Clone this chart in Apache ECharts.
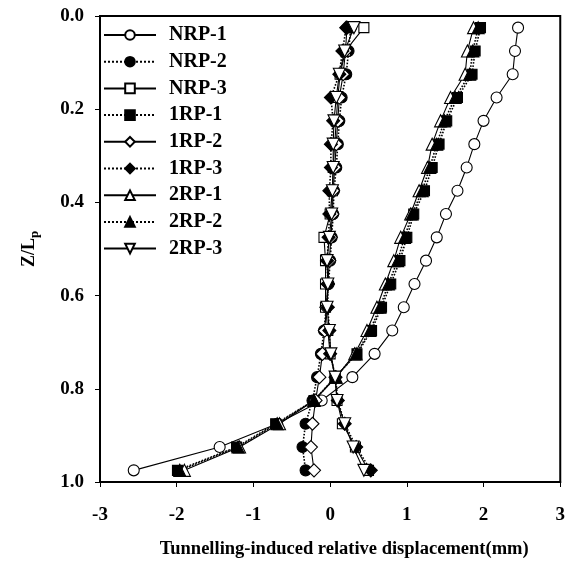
<!DOCTYPE html>
<html>
<head>
<meta charset="utf-8">
<script src="https://cdn.jsdelivr.net/npm/echarts@6/dist/echarts.min.js"></script>
<style>
  html, body { margin: 0; padding: 0; background: #fff; }
  #chart { width: 568px; height: 565px; }
</style>
</head>
<body>
<div id="chart"></div>
<script>
// depth ratio Z/Lp of each measuring point
const depths = [0.025, 0.075, 0.125, 0.175, 0.225, 0.275, 0.325, 0.375, 0.425, 0.475,
                0.525, 0.575, 0.625, 0.675, 0.725, 0.775, 0.825, 0.875, 0.925, 0.975]

// relative displacement (mm), one value per depth
const nrp1 = [2.45, 2.41, 2.38, 2.17, 2.0, 1.88, 1.78, 1.66, 1.51, 1.39,
              1.25, 1.10, 0.96, 0.81, 0.58, 0.29, -0.11, -0.69, -1.44, -2.56]
const nrp2 = [0.27, 0.24, 0.21, 0.15, 0.12, 0.10, 0.08, 0.05, 0.04, 0.02,
              0.0, -0.02, -0.05, -0.08, -0.12, -0.17, -0.23, -0.32, -0.36, -0.32]
const nrp3 = [0.44, 0.20, 0.13, 0.10, 0.08, 0.06, 0.04, 0.03, 0.0, -0.08,
              -0.06, -0.06, -0.06, -0.03, 0.0, 0.065, 0.09, 0.16, 0.33, 0.5]
const rp1_1 = [1.96, 1.89, 1.85, 1.66, 1.52, 1.42, 1.33, 1.23, 1.09, 1.0,
               0.91, 0.79, 0.67, 0.54, 0.35, 0.065, -0.21, -0.71, -1.22, -1.99]
const rp1_2 = [0.22, 0.20, 0.17, 0.12, 0.10, 0.08, 0.06, 0.04, 0.03, 0.01,
               -0.01, -0.03, -0.05, -0.07, -0.10, -0.14, -0.19, -0.23, -0.25, -0.21]
const rp1_3 = [0.21, 0.16, 0.12, 0.01, 0.04, 0.01, 0.01, -0.01, -0.01, -0.02,
               -0.04, -0.03, -0.03, -0.01, 0.0, 0.07, 0.10, 0.19, 0.34, 0.53]
const rp2_1 = [1.87, 1.79, 1.76, 1.57, 1.44, 1.33, 1.27, 1.16, 1.05, 0.92,
               0.83, 0.72, 0.61, 0.48, 0.32, 0.08, -0.21, -0.66, -1.18, -1.9]
const rp2_2 = [1.93, 1.86, 1.82, 1.63, 1.49, 1.39, 1.30, 1.20, 1.07, 0.97,
               0.88, 0.76, 0.65, 0.52, 0.34, 0.07, -0.21, -0.69, -1.2, -1.96]
const rp2_3 = [0.31, 0.19, 0.12, 0.08, 0.05, 0.04, 0.04, 0.03, 0.02, -0.01,
               -0.04, -0.03, -0.04, -0.01, 0.01, 0.065, 0.09, 0.19, 0.30, 0.44]

const xTicks = [-3, -2, -1, 0, 1, 2, 3]

const FONT = '"Liberation Serif", "Times New Roman", serif'

// 名称、数据、符号、是否实心、线型
const seriesDefs = [
  ['NRP-1', nrp1, 'circle', false, 'solid'],
  ['NRP-2', nrp2, 'circle', true, 'dotted'],
  ['NRP-3', nrp3, 'rect', false, 'solid'],
  ['1RP-1', rp1_1, 'rect', true, 'dotted'],
  ['1RP-2', rp1_2, 'diamond', false, 'solid'],
  ['1RP-3', rp1_3, 'diamond', true, 'dotted'],
  ['2RP-1', rp2_1, 'triangle', false, 'solid'],
  ['2RP-2', rp2_2, 'triangle', true, 'dotted'],
  ['2RP-3', rp2_3, 'triangle', false, 'solid', 180]
]

const symbolSizes = { circle: 11, rect: 10, diamond: 13, triangle: 12 }

const chart = echarts.init(document.getElementById('chart'), null, { renderer: 'canvas' })

const series = seriesDefs.map(([name, vals, symbol, filled, lineType, rotate]) => ({
  name,
  type: 'line',
  data: vals.map((v, i) => [v, depths[i]]),
  symbol,
  symbolSize: symbolSizes[symbol],
  symbolRotate: rotate || 0,
  showAllSymbol: true,
  lineStyle: { color: '#000', width: lineType === 'dotted' ? 1.6 : 1.1, type: lineType },
  itemStyle: { color: filled ? '#000' : '#fff', borderColor: '#000', borderWidth: 1.1, opacity: 1 },
  emphasis: { disabled: true },
  animation: false
}))

const option = {
  backgroundColor: '#fff',
  animation: false,
  grid: {
    left: 100, right: 6, top: 16, bottom: 83,
    show: true, borderColor: '#000', borderWidth: 2, backgroundColor: 'transparent'
  },
  legend: {
    orient: 'vertical',
    left: 98,
    top: 20,
    itemWidth: 52,
    itemHeight: 12,
    itemGap: 6.7,
    textStyle: {
      fontFamily: FONT, fontWeight: 'bold', fontSize: 20, color: '#000',
      lineHeight: 17, padding: [0, 0, 0, 8]
    },
    data: seriesDefs.map(d => d[0])
  },
  xAxis: {
    type: 'value',
    min: xTicks[0],
    max: xTicks[xTicks.length - 1],
    interval: 1,
    name: 'Tunnelling-induced relative displacement(mm)',
    nameLocation: 'middle',
    nameGap: 58,
    nameTextStyle: {
      fontFamily: FONT, fontWeight: 'bold', fontSize: 18.5, color: '#000',
      padding: [0, 0, 0, 28]
    },
    axisLine: { show: true, onZero: false, lineStyle: { color: '#000', width: 2 } },
    axisTick: { show: true, inside: false, length: 5, lineStyle: { color: '#000', width: 1 } },
    axisLabel: { margin: 24, fontFamily: FONT, fontWeight: 'bold', fontSize: 19, color: '#000' },
    splitLine: { show: false }
  },
  yAxis: {
    type: 'value',
    inverse: true,
    min: 0,
    max: 1,
    interval: 0.2,
    name: '{b|Z/L}{s|p}',
    nameLocation: 'middle',
    nameGap: 59,
    nameRotate: 90,
    nameTextStyle: {
      rich: {
        b: { fontFamily: FONT, fontWeight: 'bold', fontSize: 18, color: '#000' },
        s: { fontFamily: FONT, fontWeight: 'bold', fontSize: 13, color: '#000', padding: [10, 0, 0, 0] }
      }
    },
    axisLine: { show: true, onZero: false, lineStyle: { color: '#000', width: 2 } },
    axisTick: { show: true, inside: false, length: 5, lineStyle: { color: '#000', width: 1 } },
    axisLabel: {
      margin: 16,
      fontFamily: FONT, fontWeight: 'bold', fontSize: 19, color: '#000',
      formatter: v => v.toFixed(1)
    },
    splitLine: { show: false }
  },
  series
}

chart.setOption(option)
</script>
</body>
</html>
